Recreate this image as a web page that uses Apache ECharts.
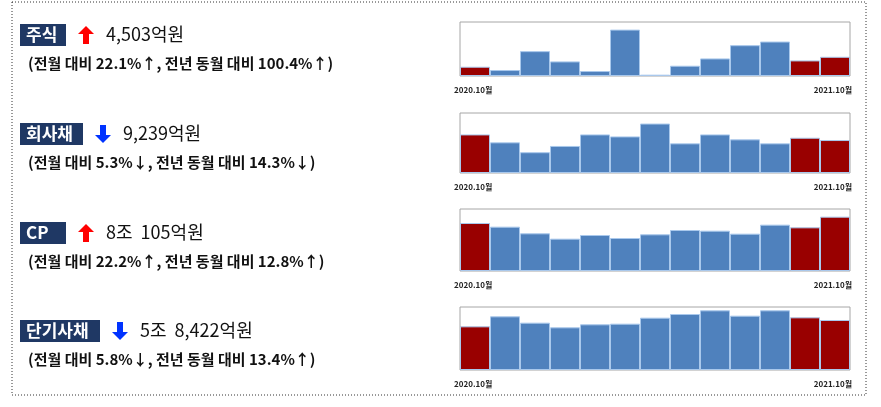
<!DOCTYPE html>
<html><head><meta charset="utf-8">
<script src="https://cdn.jsdelivr.net/npm/echarts@6/dist/echarts.min.js"></script>
<style>html,body{margin:0;background:#fff}#c{width:881px;height:407px}</style>
</head><body><div id="c"></div>
<script>
const months = ['2020.10','11','12','2021.1','2','3','4','5','6','7','8','9','2021.10'];
const stock = [28,18,75,44,15,140,4,31,53,93,104,47,58];
const corpBond = [117,93,63,82,117,111,150,90,117,102,90,107,100];
const cp = [144,133,113,97,108,99,110,123,121,112,139,131,163];
const shortBond = [131,161,142,128,137,139,157,168,179,163,179,158,150];
const tickLabels = ['2020.10월','2021.10월'];
const maxes = [163,182,186,189];
const titles = ['주식','회사채','CP','단기사채'];
const amounts = ['4,503억원','9,239억원','8조  105억원','5조  8,422억원'];
const subs = ['(전월 대비 22.1%↑, 전년 동월 대비 100.4%↑)','(전월 대비 5.3%↓, 전년 동월 대비 14.3%↓)','(전월 대비 22.2%↑, 전년 동월 대비 12.8%↑)','(전월 대비 5.8%↓, 전년 동월 대비 13.4%↑)'];
const dirs = ['up','down','up','down'];
const seriesData = [stock, corpBond, cp, shortBond];

const grids = [{top:22,h:54},{top:113,h:60},{top:209,h:62},{top:307,h:63}];
const red='#990000', blue='#4f81bd';
const chart = echarts.init(document.getElementById('c'));
const opt = {animation:false, grid:[], xAxis:[], yAxis:[], series:[], graphic:[]};
const F = '"Malgun Gothic","Noto Sans CJK KR",sans-serif';
grids.forEach((g,i)=>{
  opt.grid.push({left:460,right:31,top:g.top,height:g.h,show:true,borderColor:'#a6a6a6',borderWidth:1});
  opt.xAxis.push({type:'category',gridIndex:i,data:months,axisLine:{show:false},axisTick:{show:false},axisLabel:{show:false}});
  opt.yAxis.push({type:'value',gridIndex:i,min:0,max:maxes[i],show:false,splitLine:{show:false}});
  opt.series.push({type:'bar',xAxisIndex:i,yAxisIndex:i,barCategoryGap:0,
    data:seriesData[i].map((v,k)=>({value:v,itemStyle:{color:(k===0||k>=11)?red:blue}})),
    itemStyle:{borderColor:'#a9c8ec',borderWidth:1}});
  const ly = g.top+g.h+10;
  opt.graphic.push({type:'text',left:454,top:ly,style:{text:tickLabels[0],font:'bold 8px '+F,fill:'#222'}});
  opt.graphic.push({type:'text',right:29,top:ly,style:{text:tickLabels[1],font:'bold 8px '+F,fill:'#222'}});
});
const ty = [24,123,222,320];
titles.forEach((t,i)=>{
  const y = ty[i];
  const w = t.length*17+12;
  opt.graphic.push({type:'rect',shape:{x:20,y:y,width:w,height:22},style:{fill:'#1f3864'}});
  opt.graphic.push({type:'text',x:26,y:y+2,style:{text:t,font:'bold 17px '+F,fill:'#fff'}});
  const ax = 20+w+12;
  const pts = dirs[i]==='up'
    ? [[ax,y+10],[ax+8,y+2],[ax+16,y+10],[ax+11,y+10],[ax+11,y+20],[ax+5,y+20],[ax+5,y+10]]
    : [[ax,y+12],[ax+8,y+20],[ax+16,y+12],[ax+11,y+12],[ax+11,y+2],[ax+5,y+2],[ax+5,y+12]];
  opt.graphic.push({type:'polygon',shape:{points:pts},style:{fill:dirs[i]==='up'?'#ff0000':'#0033ff'}});
  opt.graphic.push({type:'text',x:ax+28,y:y+1,style:{text:amounts[i],font:'18px '+F,fill:'#111'}});
  opt.graphic.push({type:'text',x:28,y:y+32,style:{text:subs[i],font:'bold 15px '+F,fill:'#111'}});
});
opt.graphic.push({type:'rect',shape:{x:12,y:2,width:854,height:393},style:{fill:'none',stroke:'#333',lineWidth:1,lineDash:[1,2]}});
chart.setOption(opt);
</script></body></html>
